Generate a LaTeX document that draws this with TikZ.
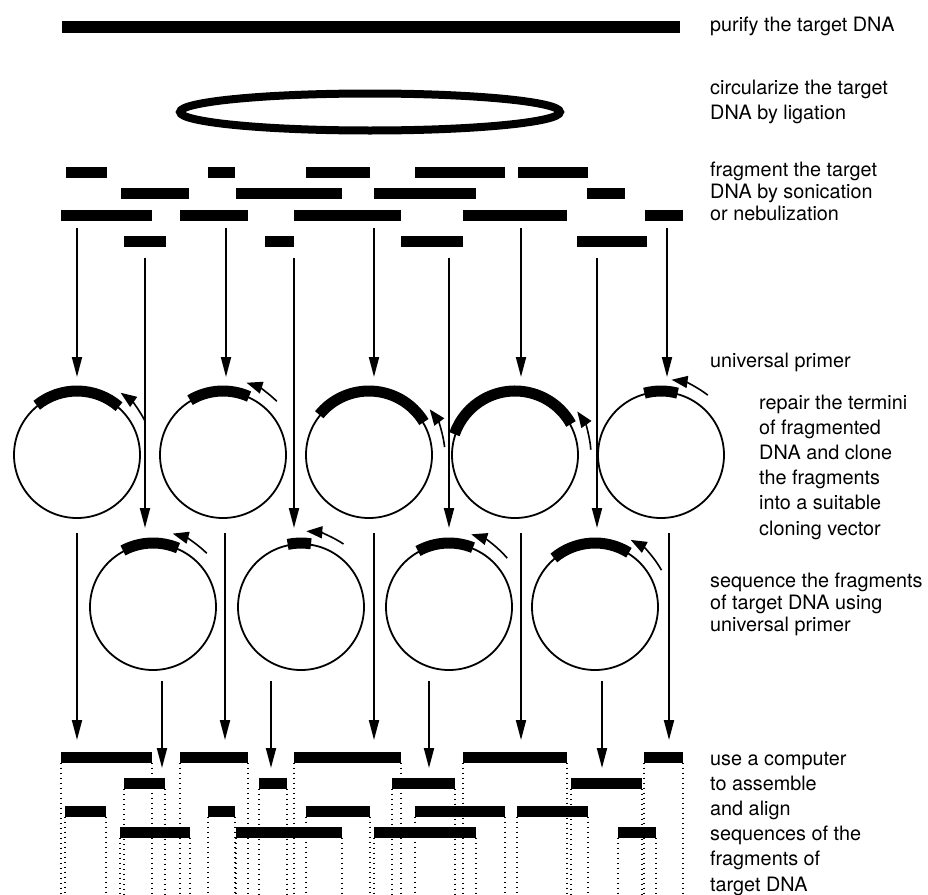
\documentclass[tikz,border=0pt]{standalone}
\usepackage{fontspec}
\setmainfont{TeX Gyre Heros}
\usetikzlibrary{arrows.meta}

\tikzset{
  frag/.style={line width=11pt},
  insert/.style={line width=11pt},
  plasmid/.style={circle, draw, line width=1.8pt, minimum size=126pt, inner sep=0pt},
  down/.style={line width=1.9pt, -{Triangle[length=20pt,width=10pt]}},
  primer/.style={line width=1.6pt, -{Triangle[length=16pt,width=12pt]}},
  guide/.style={line width=1.3pt, dash pattern=on 1.4pt off 3.6pt},
  note/.style={anchor=base west, inner sep=0pt, align=left},
}

\begin{document}
\begin{tikzpicture}[x=1pt, y=-1pt, font=\fontsize{19.8}{24}\selectfont]
\useasboundingbox (0,0) rectangle (928,894);
\begin{scope}
  % target DNA, linear and circular
  \draw[line width=12pt] (62,27) -- (680,27);
  \draw[line width=8pt] (370,112) ellipse[x radius=190pt, y radius=18.5pt];

  % fragments after sonication
  \foreach \y/\bars in {172/{66/107,208/235,306/370,415/505,518/588},
                        193/{121/189,236/342,374/476,587/625},
                        215/{61/152,180/248,294/401,463/567,645/683},
                        241/{124/166,265/294,401/463,577/647}} {
    \foreach \a/\b in \bars \draw[frag] (\a,\y) -- (\b,\y);
  }

  % clones: n/x/y/insert from/insert to/primer tail/primer tip
  \foreach \n/\x/\y/\s/\e/\p/\q in {1/77/455/49/129/26/55, 2/223/455/66/121/45/72,
      3/369/455/31/141/6/37, 4/515/455/29/161/4/35, 5/661/455/75/105/52/82,
      6/153/607/67/118/45/75, 7/301/607/81/102/56/86, 8/449/607/68/119/40/73,
      9/595/607/58/130/29/62} {
    \node[plasmid] (p\n) at (\x,\y) {};
    \draw[insert] (p\n.center) ++(\s:64pt) arc[start angle=\s, end angle=\e, radius=64pt];
    \draw[primer] (p\n.center) ++(\p:76pt) arc[start angle=\p, end angle=\q, radius=76pt];
  }

  % arrows into the vectors
  \foreach \n/\x/\a/\b in {1/77/228/377, 2/226/228/377, 3/374/228/377, 4/521/228/377,
      5/667/228/377, 6/145/258/528, 7/294/258/528, 8/449/258/528, 9/597/258/528} {
    \coordinate (in\n) at (\x,\a);
    \coordinate (to\n) at (\x,\b);
    \draw[down] (in\n) -- (to\n);
  }

  % arrows to the sequences
  \foreach \n/\x/\a/\b in {1/77/533/740, 2/225/533/740, 3/374/533/740, 4/521/533/740,
      5/669/533/740, 6/162/681/768, 7/271/681/768, 8/429/681/768, 9/602/681/768} {
    \coordinate (out\n) at (\x,\a);
    \coordinate (seq\n) at (\x,\b);
    \draw[down] (out\n) -- (seq\n);
  }

  % assembled sequences
  \foreach \y/\bars in {757/{61/152,180/248,294/401,463/567,644/683},
                        783/{124/165,259/287,392/455,571/642},
                        811/{65/106,208/235,306/370,415/505,517/588},
                        832/{120/190,236/342,374/476,618/656}} {
    \foreach \a/\b in \bars {
      \draw[guide] (\a,\y+5.5) -- (\a,894);
      \draw[guide] (\b,\y+5.5) -- (\b,894);
      \draw[frag] (\a,\y) -- (\b,\y);
    }
  }

  % steps (anchored at the last line)
  \node[note] (purify) at (710,31) {purify the target DNA};
  \node[note, font=\fontsize{19.8}{25}\selectfont] (ligate) at (710,119)
    {circularize the target\\DNA by ligation};
  \node[note, font=\fontsize{19.8}{21.7}\selectfont] (shear) at (710,220)
    {fragment the target\\DNA by sonication\\or nebulization};
  \node[note] (primer) at (710,367) {universal primer};
  \node[note, font=\fontsize{19.8}{25.2}\selectfont] (clone) at (759,535)
    {repair the termini\\of fragmented\\DNA and clone\\the fragments\\into a suitable\\cloning vector};
  \node[note, font=\fontsize{19.8}{22}\selectfont] (sequence) at (710,631)
    {sequence the fragments\\of target DNA using\\universal primer};
  \node[note, font=\fontsize{19.8}{25.2}\selectfont] (assemble) at (710,891)
    {use a computer\\to assemble\\and align\\sequences of the\\fragments of\\target DNA};
\end{scope}
\end{tikzpicture}
\end{document}
